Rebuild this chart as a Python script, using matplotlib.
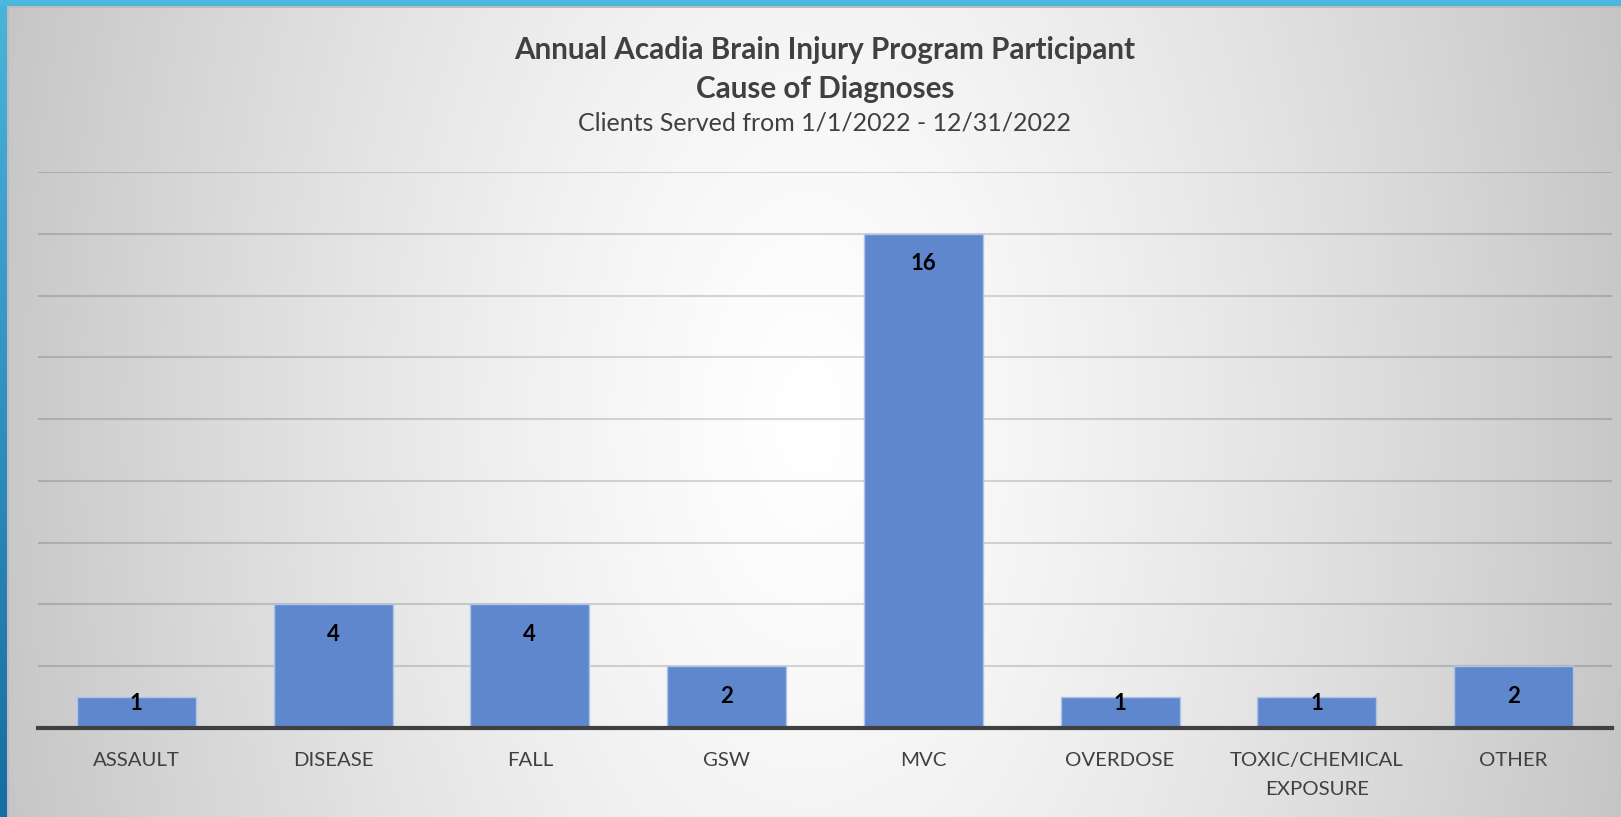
import numpy as np
import matplotlib
matplotlib.use("Agg")
import matplotlib.pyplot as plt
from matplotlib.patches import Rectangle

# ---------------- data ----------------
categories = ["ASSAULT", "DISEASE", "FALL", "GSW", "MVC", "OVERDOSE",
              "TOXIC/CHEMICAL\nEXPOSURE", "OTHER"]
counts = [1, 4, 4, 2, 16, 1, 1, 2]
title_line1 = "Annual Acadia Brain Injury Program Participant"
title_line2 = "Cause of Diagnoses"
subtitle = "Clients Served from 1/1/2022 - 12/31/2022"

FONT = ["Lato", "DejaVu Sans"]
plt.rcParams["font.family"] = FONT

W, H = 1621, 817
fig = plt.figure(figsize=(W / 100, H / 100), dpi=100)

# ---------------- background (radial gradient + border) ----------------
bg = fig.add_axes([0, 0, 1, 1], zorder=-10)
bg.axis("off")
yy, xx = np.mgrid[0:H, 0:W]
t = np.sqrt(((xx - 810) / 800.0) ** 2 + ((yy - 420) / 1400.0) ** 2)
t = np.clip(t, 0, 1.1)
val = (255 - 54 * t ** 1.3) / 255.0
img = np.dstack([val, val, val])
bg.imshow(img, extent=(0, W, H, 0), aspect="auto", interpolation="bilinear")
# top blue strip
bg.add_patch(Rectangle((0, 0), W, 6, color="#4DB8DE", lw=0))
bg.add_patch(Rectangle((7, 6), W, 2, color="#BDBDBD", lw=0))
# left blue strip with vertical gradient
left = np.linspace(0, 1, 200)[:, None]
c_top = np.array([0x4A, 0xB4, 0xDB]) / 255.0
c_bot = np.array([0x17, 0x6C, 0xA3]) / 255.0
strip = (c_top[None, None, :] * (1 - left[:, :, None]) + c_bot[None, None, :] * left[:, :, None])
bg.imshow(strip, extent=(0, 7, H, 0), aspect="auto")
bg.add_patch(Rectangle((7, 6), 1.5, H, color="#BDBDBD", lw=0))
bg.set_xlim(0, W)
bg.set_ylim(H, 0)

# ---------------- main axes ----------------
ax = fig.add_axes([38 / W, 89 / H, (1612 - 38) / W, (728 - 172) / H])
ax.set_facecolor("none")
x = np.arange(len(categories))
ax.bar(x, counts, width=0.605, color="#5F87CD", edgecolor="#AFC3E8",
       linewidth=1.0, zorder=3)
ax.set_xlim(-0.5, len(categories) - 0.5)
ax.set_ylim(0, 18)
ax.set_yticks(np.arange(2, 19, 2))
ax.yaxis.grid(True, color="#000000", alpha=0.15, linewidth=1.5, zorder=0)
ax.tick_params(axis="y", left=False, labelleft=False)
ax.set_xticks(x)
ax.set_xticklabels(categories, fontsize=14.7, color="#404040", linespacing=1.85)
ax.tick_params(axis="x", length=0, pad=17)
for s in ["top", "right", "left"]:
    ax.spines[s].set_visible(False)
ax.spines["bottom"].set_color("#404040")
ax.spines["bottom"].set_linewidth(3.0)
ax.spines["bottom"].set_zorder(4)

# data labels (inside end, kept within bar)
px_per_unit = (728 - 172) / 18.0
for xi, v in zip(x, counts):
    yc = max(v - 30 / px_per_unit, 25 / px_per_unit)
    ax.text(xi, yc, str(v), ha="center", va="center", fontsize=16,
            fontweight="bold", color="black", zorder=5)

# ---------------- titles ----------------
fig.text(825 / W, 1 - 49.5 / H, title_line1, ha="center", va="center",
         fontsize=21.3, fontweight="bold", color="#404040")
fig.text(825 / W, 1 - 89 / H, title_line2, ha="center", va="center",
         fontsize=21.3, fontweight="bold", color="#404040")
fig.text(825 / W, 1 - 123 / H, subtitle, ha="center", va="center",
         fontsize=18, color="#404040")

fig.savefig("out.png", dpi=100)
